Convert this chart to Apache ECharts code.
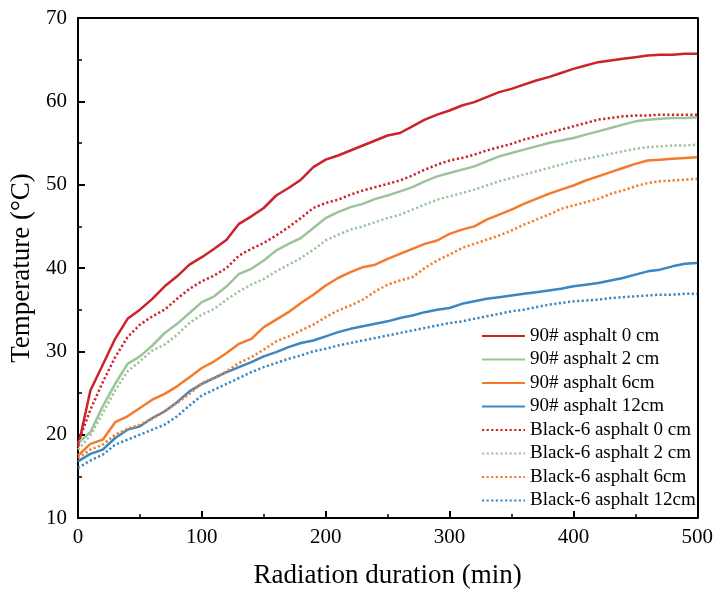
<!DOCTYPE html>
<html>
<head>
<meta charset="utf-8">
<script src="https://cdn.jsdelivr.net/npm/echarts@6/dist/echarts.min.js"></script>
<style>html,body{margin:0;padding:0;background:#fff;}#c{width:716px;height:597px;}</style>
</head>
<body>
<div id="c"></div>
<script>
const timeMin = [0,10,20,30,40,50,60,70,80,90,100,110,120,130,140,150,160,170,180,190,200,210,220,230,240,250,260,270,280,290,300,310,320,330,340,350,360,370,380,390,400,410,420,430,440,450,460,470,480,490,500];

const asp90_0 = [18.5,25.3,28.4,31.5,33.9,35.0,36.3,37.8,39.0,40.4,41.3,42.3,43.4,45.3,46.2,47.2,48.7,49.6,50.6,52.1,53.0,53.5,54.1,54.7,55.3,55.9,56.2,57.0,57.8,58.4,58.9,59.5,59.9,60.5,61.1,61.5,62.0,62.5,62.9,63.4,63.9,64.3,64.7,64.9,65.1,65.3,65.5,65.6,65.6,65.7,65.7];
const asp90_2 = [19.0,20.3,23.4,26.1,28.5,29.4,30.7,32.2,33.3,34.6,35.9,36.6,37.8,39.3,39.9,40.9,42.1,42.9,43.6,44.8,46.0,46.7,47.3,47.7,48.3,48.7,49.2,49.7,50.4,51.0,51.4,51.8,52.2,52.8,53.4,53.8,54.2,54.6,55.0,55.3,55.6,56.0,56.4,56.8,57.2,57.6,57.8,57.9,58.0,58.0,58.1];
const asp90_6 = [17.5,18.9,19.4,21.5,22.2,23.2,24.2,24.9,25.8,26.9,28.0,28.8,29.8,30.9,31.5,32.9,33.8,34.7,35.8,36.8,37.9,38.8,39.5,40.1,40.4,41.1,41.7,42.3,42.9,43.3,44.1,44.6,45.0,45.8,46.4,47.0,47.7,48.3,48.9,49.4,49.9,50.5,51.0,51.5,52.0,52.5,52.9,53.0,53.1,53.2,53.3];
const asp90_12 = [16.8,17.7,18.2,19.6,20.6,21.0,22.0,22.8,23.9,25.2,26.1,26.8,27.5,28.1,28.7,29.4,29.9,30.5,31.0,31.3,31.8,32.3,32.7,33.0,33.3,33.6,34.0,34.3,34.7,35.0,35.2,35.7,36.0,36.3,36.5,36.7,36.9,37.1,37.3,37.5,37.8,38.0,38.2,38.5,38.8,39.2,39.6,39.8,40.2,40.5,40.6];
const black6_0 = [19.0,23.0,26.3,29.3,31.7,33.2,34.2,35.0,36.3,37.5,38.4,39.1,40.0,41.5,42.3,43.0,43.9,44.9,46.0,47.2,47.8,48.2,48.8,49.3,49.7,50.1,50.5,51.1,51.8,52.4,52.9,53.2,53.6,54.1,54.5,54.9,55.4,55.8,56.2,56.6,57.0,57.4,57.8,58.0,58.2,58.3,58.3,58.4,58.4,58.4,58.4];
const black6_2 = [18.2,19.9,22.6,25.3,27.6,28.8,30.1,30.8,32.0,33.4,34.4,35.1,36.2,37.2,38.0,38.7,39.6,40.4,41.2,42.2,43.3,44.0,44.6,45.0,45.5,46.0,46.4,47.0,47.6,48.2,48.6,49.0,49.4,49.9,50.4,50.8,51.2,51.6,52.0,52.4,52.8,53.1,53.4,53.7,54.0,54.3,54.5,54.6,54.7,54.7,54.8];
const black6_6 = [17.2,18.2,18.8,20.0,20.7,21.2,21.9,22.8,23.8,24.9,26.2,26.8,27.6,28.6,29.3,30.2,31.2,31.8,32.5,33.2,34.1,34.9,35.5,36.2,37.2,38.0,38.5,38.9,40.0,40.9,41.6,42.4,42.9,43.4,43.9,44.5,45.2,45.8,46.4,47.1,47.5,47.9,48.3,48.9,49.3,49.8,50.2,50.4,50.5,50.6,50.7];
const black6_12 = [16.0,16.9,17.6,18.8,19.4,20.0,20.6,21.2,22.2,23.5,24.7,25.4,26.1,26.8,27.5,28.1,28.6,29.1,29.5,30.0,30.3,30.7,31.0,31.3,31.6,31.9,32.2,32.5,32.8,33.1,33.4,33.6,33.9,34.2,34.5,34.8,35.0,35.3,35.6,35.8,36.0,36.1,36.2,36.4,36.5,36.6,36.7,36.8,36.8,36.9,36.9];

const seriesNames = ['90# asphalt 0 cm','90# asphalt 2 cm','90# asphalt 6cm','90# asphalt 12cm','Black-6 asphalt 0 cm','Black-6 asphalt 2 cm','Black-6 asphalt 6cm','Black-6 asphalt 12cm'];
const seriesValues = [asp90_0, asp90_2, asp90_6, asp90_12, black6_0, black6_2, black6_6, black6_12];
const colors = ['#cc2229','#9dc39b','#f47a2c','#3a87c3','#cc2229','#9dc39b','#f47a2c','#3a87c3'];
const dotted = [false,false,false,false,true,true,true,true];

const xTicks = [0,100,200,300,400,500];
const yTicks = [10,20,30,40,50,60,70];

const font = '"Liberation Serif","Times New Roman",serif';
const chart = echarts.init(document.getElementById('c'), null, {renderer:'canvas'});

const series = seriesNames.map((name,i)=>({
  name: name,
  type: 'line',
  symbol: 'none',
  showSymbol: false,
  smooth: false,
  data: timeMin.map((t,j)=>[t, seriesValues[i][j]]),
  lineStyle: {color: colors[i], width: 2.5, type: dotted[i] ? [2.2,2.4] : 'solid', cap: 'butt'},
  itemStyle: {color: colors[i]},
  z: dotted[i] ? 3 : 2
}));

chart.setOption({
  animation: false,
  backgroundColor: '#fff',
  grid: {left: 78, right: 18, top: 18, bottom: 79, containLabel: false},
  legend: {
    show: true,
    orient: 'vertical',
    left: 481,
    top: 326,
    itemWidth: 43,
    itemHeight: 14,
    itemGap: 3.5,
    data: seriesNames,
    itemStyle: {opacity: 0},
    textStyle: {fontFamily: font, fontSize: 19, color: '#000', lineHeight: 20},
    padding: 0
  },
  xAxis: [{
    type: 'value', min: xTicks[0], max: xTicks[xTicks.length-1], interval: 100,
    name: 'Radiation duration (min)', nameLocation: 'middle', nameGap: 44,
    nameTextStyle: {fontFamily: font, fontSize: 27, color: '#000'},
    axisLine: {show: true, onZero: false, lineStyle: {color: '#000', width: 2}},
    axisTick: {show: true, inside: true, length: 7, lineStyle: {color: '#000', width: 2}},
    minorTick: {show: true, splitNumber: 2, length: 4, lineStyle: {color: '#000', width: 1.5}},
    axisLabel: {fontFamily: font, fontSize: 21, color: '#000', margin: 9},
    splitLine: {show: false}
  },{
    type: 'value', position: 'top', min: 0, max: 500,
    axisLine: {show: true, onZero: false, lineStyle: {color: '#000', width: 2}},
    axisTick: {show: false}, axisLabel: {show: false}, splitLine: {show: false}
  }],
  yAxis: [{
    type: 'value', min: yTicks[0], max: yTicks[yTicks.length-1], interval: 10,
    name: 'Temperature (°C)', nameLocation: 'middle', nameGap: 42,
    nameTextStyle: {fontFamily: font, fontSize: 27, color: '#000'},
    axisLine: {show: true, onZero: false, lineStyle: {color: '#000', width: 2}},
    axisTick: {show: true, inside: true, length: 7, lineStyle: {color: '#000', width: 2}},
    minorTick: {show: true, splitNumber: 2, length: 4, lineStyle: {color: '#000', width: 1.5}},
    axisLabel: {fontFamily: font, fontSize: 21, color: '#000', margin: 11},
    splitLine: {show: false}
  },{
    type: 'value', position: 'right', min: 10, max: 70,
    axisLine: {show: true, onZero: false, lineStyle: {color: '#000', width: 2}},
    axisTick: {show: false}, axisLabel: {show: false}, splitLine: {show: false}
  }],
  series: series
});
</script>
</body>
</html>
